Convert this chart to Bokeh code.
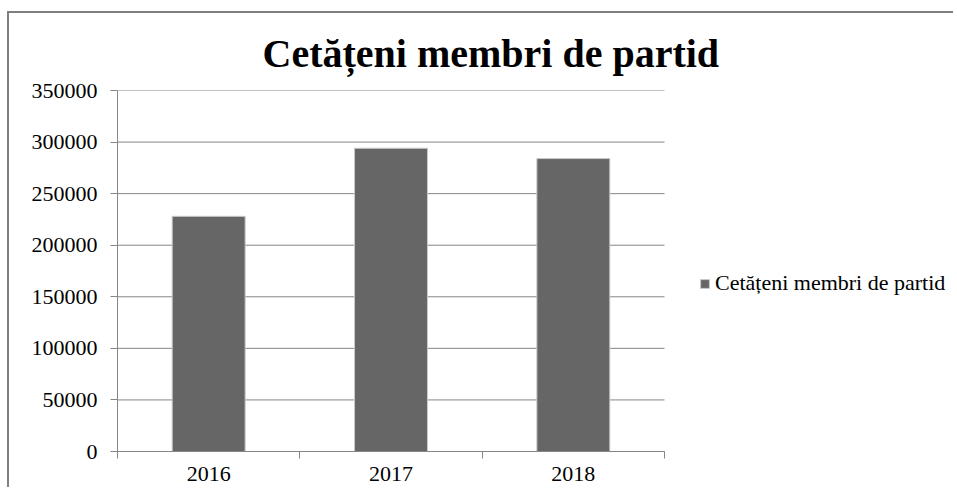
from bokeh.plotting import figure
from bokeh.models import (Range1d, FixedTicker, NumeralTickFormatter, Title,
                          Legend, LegendItem, ColumnDataSource)
from bokeh.embed import file_html
from bokeh.resources import INLINE

years = ["2016", "2017", "2018"]
members = [228000, 294000, 284000]
y_ticks = [0, 50000, 100000, 150000, 200000, 250000, 300000, 350000]
title_text = "Cetățeni membri de partid"
series_name = "Cetățeni membri de partid"

xpos = [i + 0.5 for i in range(len(years))]
src = ColumnDataSource(dict(x=xpos, top=members))

OX, OY = 9, 13          # canvas origin on the page
W, H = 946, 476
FL, FR, FT, FB = 117, 664, 90, 451   # plot-area edges on the page
n = len(years)
x_end = n * (W + OX - FL) / (FR - FL)   # frame runs to the canvas edge; legend lives there

p = figure(width=W, height=H, output_backend="svg", toolbar_location=None,
           x_range=Range1d(0, x_end), y_range=Range1d(0, 350000),
           min_border_left=FL - OX, min_border_right=0,
           min_border_top=FT - OY, min_border_bottom=H - (FB - OY))
p.styles = {"margin-left": "7px", "margin-top": "11px",
            "border-left": "2px solid #7f7f7f", "border-top": "2px solid #7f7f7f"}
p.outline_line_color = None
p.background_fill_color = "white"
p.border_fill_color = "white"

# horizontal grid lines across the category area only
p.segment(x0=0, x1=n, y0=y_ticks, y1=y_ticks, line_color="#868686", line_width=1)

r = p.vbar(x="x", top="top", width=0.4, bottom=0, source=src,
           fill_color="#666666", line_color="#c8c8c8", line_width=1)

serif = "Liberation Serif"
# y axis
p.yaxis.ticker = FixedTicker(ticks=y_ticks)
p.yaxis.formatter = NumeralTickFormatter(format="0")
p.yaxis.axis_line_color = "#868686"
p.yaxis.major_tick_line_color = "#868686"
p.yaxis.major_tick_out = 7
p.yaxis.major_tick_in = 0
p.yaxis.minor_tick_line_color = None
p.yaxis.major_label_text_font = serif
p.yaxis.major_label_text_font_size = "22px"
p.yaxis.major_label_text_color = "black"
p.yaxis.major_label_standoff = 13

# x axis
p.xaxis.bounds = (0, n)
p.xaxis.ticker = FixedTicker(ticks=xpos, minor_ticks=list(range(n + 1)))
p.xaxis.major_label_overrides = {x: y for x, y in zip(xpos, years)}
p.xaxis.axis_line_color = "#868686"
p.xaxis.major_tick_line_color = None
p.xaxis.minor_tick_line_color = "#868686"
p.xaxis.minor_tick_out = 7
p.xaxis.minor_tick_in = 0
p.xaxis.major_label_text_font = serif
p.xaxis.major_label_text_font_size = "22px"
p.xaxis.major_label_text_color = "black"
p.xaxis.major_label_standoff = 8

p.xgrid.grid_line_color = None
p.ygrid.grid_line_color = None

p.add_layout(Title(text=title_text, align="left", offset=145,
                   text_font=serif, text_font_style="bold",
                   text_font_size="40px", text_color="black", standoff=30), "above")

legend = Legend(items=[LegendItem(label=series_name, renderers=[r])],
                location=(582, 155), orientation="vertical",
                label_text_font=serif, label_text_font_size="22px",
                label_text_color="black", glyph_width=11, glyph_height=11,
                label_standoff=5, border_line_color=None,
                background_fill_alpha=0, padding=0, margin=0)
p.add_layout(legend, "center")

open("out.html", "w").write(file_html(p, INLINE))
